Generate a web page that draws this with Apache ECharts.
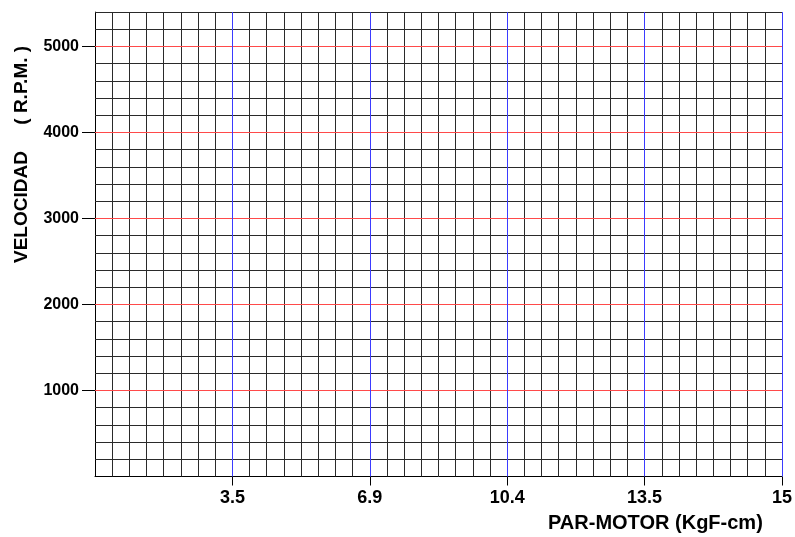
<!DOCTYPE html>
<html lang="es">
<head>
    <meta charset="UTF-8">
    <title>Velocidad vs Par-Motor</title>
    <script src="https://cdn.jsdelivr.net/npm/echarts@6/dist/echarts.min.js"></script>
    <style>
        body { margin: 0; padding: 0; background: #fff; }
        #chart { width: 795px; height: 537px; }
    </style>
</head>
<body>
    <div id="chart"></div>
    <script>
        // minor divisions along the x axis (8 per major), labels shown on majors
        const xMinorCount = 40;
        const xMajorStep = 8;
        const xTickLabels = ['3.5', '6.9', '10.4', '13.5', '15'];
        const yMax = 5400;
        const yMinorStep = 200;
        const yTicks = [1000, 2000, 3000, 4000, 5000];

        const xTickPos = xTickLabels.map((_, i) => (i + 1) * xMajorStep);
        const font = '"Liberation Sans", Arial, sans-serif';
        const minorColor = '#2a2a2a';

        // grid lines: minor ones first (black), majors on top (red / blue)
        const gridLines = [];
        for (let x = 1; x < xMinorCount; x++) {
            if (x % xMajorStep) gridLines.push({ xAxis: x, lineStyle: { color: minorColor } });
        }
        for (let y = yMinorStep; y <= yMax; y += yMinorStep) {
            if (y % 1000) gridLines.push({ yAxis: y, lineStyle: { color: minorColor } });
        }
        yTicks.forEach(v => gridLines.push({ yAxis: v, lineStyle: { color: '#ff4a4a' } }));
        xTickPos.forEach(v => gridLines.push({ xAxis: v, lineStyle: { color: '#3b3bff' } }));

        const chart = echarts.init(document.getElementById('chart'));
        chart.setOption({
            animation: false,
            // 86 px per 1000 rpm
            grid: { left: 95, right: 10, top: 12.1, bottom: 60.5 },
            xAxis: {
                type: 'value', min: 0, max: xMinorCount, interval: xMajorStep,
                axisLine: { show: true, onZero: false, lineStyle: { color: '#000', width: 1 } },
                axisTick: { show: true, length: 9, customValues: xTickPos, lineStyle: { color: '#000' } },
                axisLabel: {
                    customValues: xTickPos,
                    margin: 13,
                    formatter: v => xTickLabels[Math.round(v / xMajorStep) - 1] || '',
                    color: '#000', fontFamily: font, fontWeight: 'bold', fontSize: 18
                },
                splitLine: { show: false }
            },
            yAxis: {
                type: 'value', min: 0, max: yMax, interval: 1000,
                axisLine: { show: true, onZero: false, lineStyle: { color: '#000', width: 1 } },
                axisTick: { show: true, length: 13, customValues: yTicks, lineStyle: { color: '#000' } },
                axisLabel: {
                    customValues: yTicks,
                    margin: 16,
                    formatter: v => String(v),
                    color: '#000', fontFamily: font, fontWeight: 'bold', fontSize: 16
                },
                splitLine: { show: false }
            },
            graphic: [
                {
                    type: 'text', left: 548, top: 513,
                    style: { text: 'PAR-MOTOR (KgF-cm)', fill: '#000', font: 'bold 20px ' + font }
                },
                {
                    type: 'text', x: 12, y: 263, rotation: Math.PI / 2,
                    style: { text: 'VELOCIDAD     ( R.P.M. )', fill: '#000', font: 'bold 19px ' + font }
                }
            ],
            series: [
                {
                    type: 'line', data: [], showSymbol: false, clip: false,
                    markLine: {
                        silent: true, symbol: 'none', animation: false,
                        label: { show: false },
                        lineStyle: { type: 'solid', width: 1 },
                        data: gridLines
                    }
                }
            ]
        });
    </script>
</body>
</html>
